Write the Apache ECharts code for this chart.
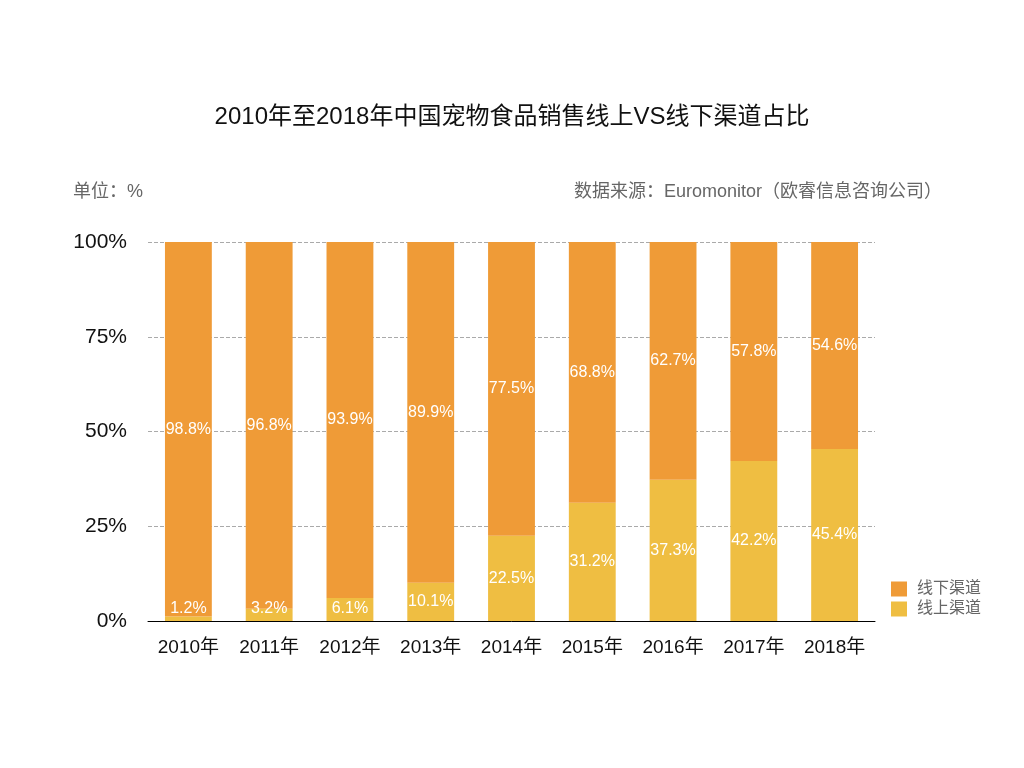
<!DOCTYPE html>
<html><head><meta charset="utf-8">
<script src="https://cdn.jsdelivr.net/npm/echarts@6/dist/echarts.min.js"></script>
<style>html,body{margin:0;padding:0;background:#fff}#c{width:1024px;height:768px}</style>
</head><body><div id="c"></div>
<script>
const categories = ['2010年','2011年','2012年','2013年','2014年','2015年','2016年','2017年','2018年'];
const online = [1.2, 3.2, 6.1, 10.1, 22.5, 31.2, 37.3, 42.2, 45.4];
const offline = [98.8, 96.8, 93.9, 89.9, 77.5, 68.8, 62.7, 57.8, 54.6];
const yTicks = [0, 25, 50, 75, 100];

const chart = echarts.init(document.getElementById('c'));
const font = '"Liberation Sans", "Noto Sans CJK SC", sans-serif';
const labelCfg = {
  show: true, position: 'inside', color: '#fff', fontSize: 16, fontFamily: font,
  offset: [0, 1],
  formatter: p => p.value.toFixed(1) + '%'
};
chart.setOption({
  backgroundColor: '#fff',
  textStyle: { fontFamily: font },
  title: [
    { text: '2010年至2018年中国宠物食品销售线上VS线下渠道占比', left: 'center', top: 100,
      textStyle: { fontSize: 24, fontWeight: 'normal', color: '#111', fontFamily: font } },
    { text: '单位：%', left: 68, top: 178,
      textStyle: { fontSize: 18, fontWeight: 'normal', color: '#666', fontFamily: font } },
    { text: '数据来源：Euromonitor（欧睿信息咨询公司）', right: 77, top: 178,
      textStyle: { fontSize: 18, fontWeight: 'normal', color: '#666', fontFamily: font } }
  ],
  legend: {
    data: ['线下渠道', '线上渠道'], orient: 'vertical', left: 886, top: 576,
    itemWidth: 16, itemHeight: 15, itemGap: 4, icon: 'rect',
    textStyle: { fontSize: 16, color: '#666', fontFamily: font, padding: [0, 0, 0, 5] }
  },
  grid: { left: 148, right: 149, top: 242, bottom: 147 },
  xAxis: {
    type: 'category', data: categories,
    axisLine: { lineStyle: { color: '#000', width: 1 } },
    axisTick: { show: false },
    axisLabel: { fontSize: 19, color: '#111', margin: 17, fontFamily: font }
  },
  yAxis: {
    type: 'value', min: yTicks[0], max: yTicks[yTicks.length - 1], interval: 25,
    axisLine: { show: false }, axisTick: { show: false },
    axisLabel: { fontSize: 21, color: '#111', margin: 21, formatter: '{value}%', fontFamily: font },
    splitLine: { lineStyle: { type: 'dashed', color: '#aaa' } }
  },
  series: [
    { name: '线上渠道', type: 'bar', stack: 'a', data: online, barWidth: '58%',
      itemStyle: { color: '#EFBE42' }, label: labelCfg },
    { name: '线下渠道', type: 'bar', stack: 'a', data: offline, barWidth: '58%',
      itemStyle: { color: '#EF9B37' }, label: labelCfg }
  ],
  labelLayout: function (params) {
    const bottom = params.rect.y + params.rect.height;
    const lr = params.labelRect;
    const over = lr.y + lr.height - (bottom - 3);
    if (params.seriesIndex === 0 && over > 0) return { dy: -over };
    return {};
  }
});
</script></body></html>
